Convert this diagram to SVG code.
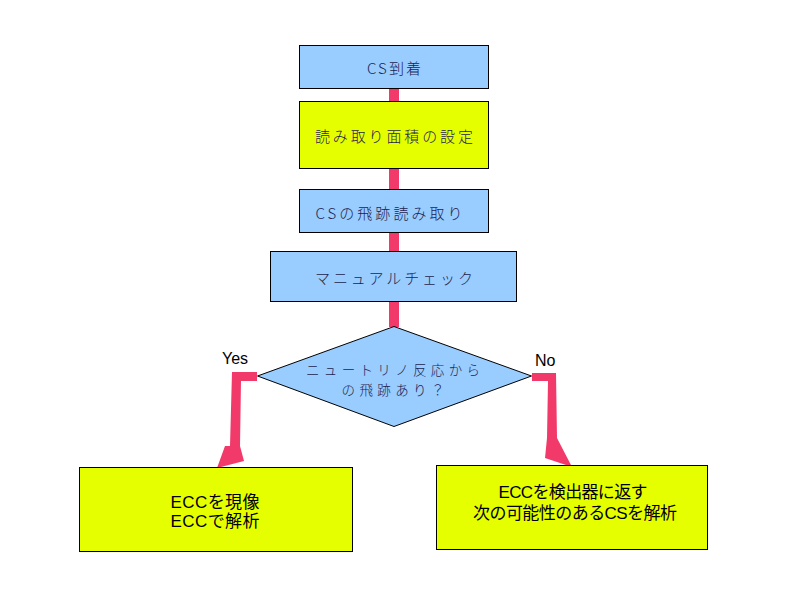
<svg xmlns="http://www.w3.org/2000/svg" width="794" height="595" viewBox="0 0 794 595">
<style>
.blue{fill:#99CCFF;stroke:#000;stroke-width:1}
.yel{fill:#E6FF00;stroke:#000;stroke-width:1}
.jt{font-family:"Noto Sans CJK JP","Noto Sans",sans-serif;font-size:15px;fill:#1E1E50;font-weight:300;text-anchor:middle;dominant-baseline:central}
.dt{font-size:13.5px}
.bt{font-family:"Liberation Sans","Noto Sans CJK JP",sans-serif;font-size:17px;fill:#000;text-anchor:middle;dominant-baseline:central}
.lbl{font-family:"Liberation Sans",Arial,sans-serif;font-size:16px;fill:#000}
.con{fill:#F23A6A;stroke:none}
</style>
<rect width="794" height="595" fill="#fff"/>
<g id="connectors">
<rect class="con" x="389" y="88" width="10" height="13"/>
<rect class="con" x="389" y="168" width="10" height="21"/>
<rect class="con" x="389" y="233" width="10" height="18"/>
<rect class="con" x="389" y="301" width="10" height="26"/>
<path class="con" d="M232,372 H257 V381 H241 L240,446 L244,461 L217,468 L225,446 L230,446 Z"/>
<path class="con" d="M532,373 H556 L557,438 L572,467 L545,458 L547,438 L548,381 H532 Z"/>
<text class="lbl" x="222" y="364">Yes</text>
<text class="lbl" x="535" y="366">No</text>
</g>
<g id="n1">
<rect class="blue" x="299.500" y="45.500" width="189" height="43"/>
<text class="jt" x="394" y="67" textLength="54">CS到着</text>
</g>
<g id="n2">
<rect class="yel" x="299.500" y="101.500" width="189" height="67"/>
<text class="jt" x="394" y="135" textLength="158">読み取り面積の設定</text>
</g>
<g id="n3">
<rect class="blue" x="299.500" y="189.500" width="189" height="43"/>
<text class="jt" x="389" y="212" textLength="147">CSの飛跡読み取り</text>
</g>
<g id="n4">
<rect class="blue" x="270.500" y="251.500" width="246" height="50"/>
<text class="jt" x="394" y="277" textLength="158">マニュアルチェック</text>
</g>
<g id="n5">
<polygon class="blue" points="394,326.500 531.500,376 394,426.500 257.500,376"/>
<text class="jt dt" x="393" y="369" textLength="174">ニュートリノ反応から</text>
<text class="jt dt" x="393" y="389" textLength="103">の飛跡あり？</text>
</g>
<g id="n6">
<rect class="yel" x="79.500" y="467.500" width="273" height="84"/>
<text class="bt" x="215" y="502" textLength="89">ECCを現像</text>
<text class="bt" x="215" y="521" textLength="89">ECCで解析</text>
</g>
<g id="n7">
<rect class="yel" x="436.500" y="465.500" width="271" height="84"/>
<text class="bt" x="573" y="492" textLength="149">ECCを検出器に返す</text>
<text class="bt" x="575" y="513" textLength="204">次の可能性のあるCSを解析</text>
</g>
</svg>
